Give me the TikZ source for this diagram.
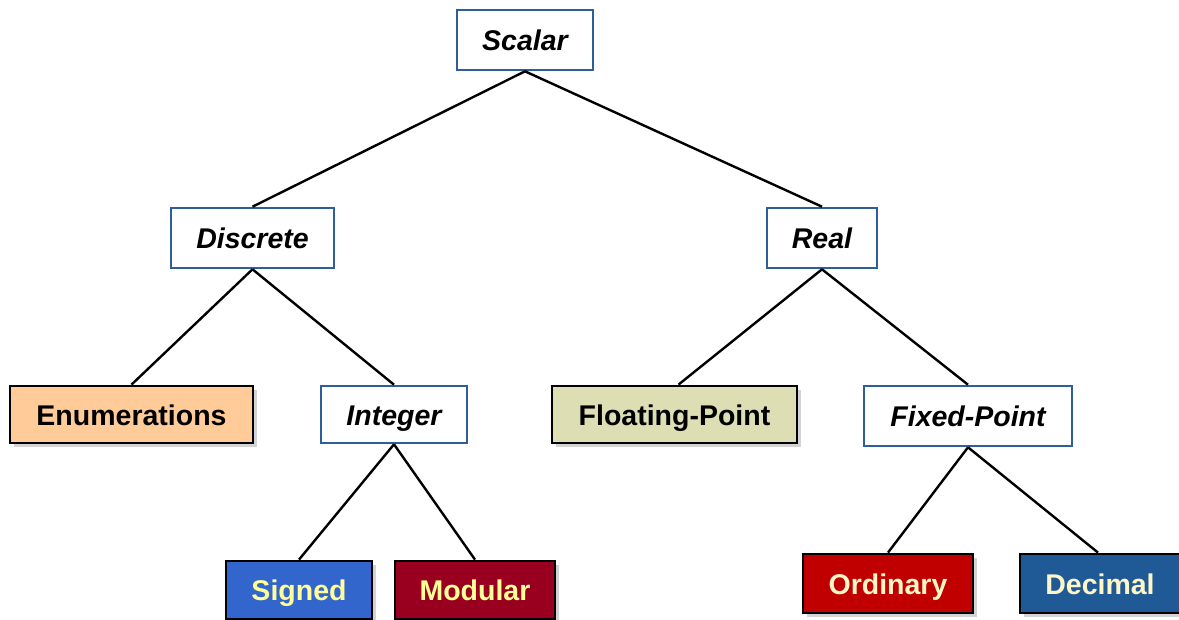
\documentclass[tikz,border=0pt]{standalone}
\usepackage{fontspec}
\setmainfont{Liberation Sans}
\usetikzlibrary{shadows}
\definecolor{outblue}{HTML}{2F5F98}
\definecolor{enumfill}{HTML}{FFCC99}
\definecolor{floatfill}{HTML}{DEDEB4}
\definecolor{signfill}{HTML}{3366CC}
\definecolor{modfill}{HTML}{99001F}
\definecolor{ordfill}{HTML}{C00000}
\definecolor{decfill}{HTML}{1F5A96}
\definecolor{yel}{HTML}{FFFF99}
\definecolor{cream}{HTML}{FFF6C8}
\tikzset{
  abox/.style={draw=outblue, line width=2.6pt, fill=white, inner sep=0pt,
    text height=21pt, text depth=0pt,
    font=\fontsize{28.5}{32}\selectfont\bfseries\itshape},
  cbox/.style={draw=black, line width=2.8pt, inner sep=0pt,
    text height=21pt, text depth=0pt,
    font=\fontsize{28.5}{32}\selectfont\bfseries,
    drop shadow={opacity=0.35, shadow xshift=4pt, shadow yshift=-4pt}},
  link/.style={draw=black, line width=2.4pt}
}
\begin{document}
\begin{tikzpicture}[x=1pt,y=-1pt]
\useasboundingbox (0,0) rectangle (1179,619);
\node[abox, minimum width=136pt, minimum height=60pt] (scalar) at (525,40) {Scalar};
\node[abox, minimum width=163pt, minimum height=60pt] (discrete) at (252.5,238) {Discrete};
\node[abox, minimum width=110pt, minimum height=60pt] (real) at (822,238) {Real};
\node[cbox, fill=enumfill, minimum width=243pt, minimum height=57pt] (enum) at (131.5,414.5) {Enumerations};
\node[abox, minimum width=146pt, minimum height=57pt] (integer) at (394,414.5) {Integer};
\node[cbox, fill=floatfill, minimum width=245pt, minimum height=57pt] (float) at (674.5,414.5) {Floating-Point};
\node[abox, minimum width=208pt, minimum height=60pt] (fixed) at (968,416) {Fixed-Point};
\node[cbox, fill=signfill, text=yel, minimum width=146pt, minimum height=58pt] (signed) at (299,590) {Signed};
\node[cbox, fill=modfill, text=yel, minimum width=160pt, minimum height=58pt] (modular) at (475,590) {Modular};
\node[cbox, fill=ordfill, text=cream, minimum width=170pt, minimum height=59pt] (ordinary) at (888,583.5) {Ordinary};
\node[cbox, fill=decfill, text=cream, minimum width=160pt, minimum height=59pt] (decimal) at (1100,583.5) {Decimal};
\draw[link] (scalar.south) -- (discrete.north);
\draw[link] (scalar.south) -- (real.north);
\draw[link] (discrete.south) -- (enum.north);
\draw[link] (discrete.south) -- (integer.north);
\draw[link] (real.south) -- ([xshift=4pt]float.north);
\draw[link] (real.south) -- (fixed.north);
\draw[link] (integer.south) -- (signed.north);
\draw[link] (integer.south) -- (modular.north);
\draw[link] (fixed.south) -- (ordinary.north);
\draw[link] (fixed.south) -- ([xshift=-2pt]decimal.north);
\end{tikzpicture}
\end{document}
